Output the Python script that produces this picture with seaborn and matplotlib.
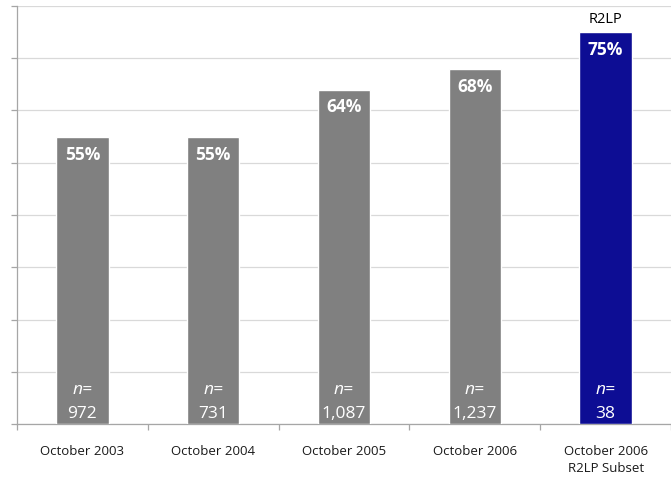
import matplotlib
matplotlib.use("Agg")
import matplotlib.pyplot as plt
import seaborn as sns
import pandas as pd
import numpy as np

categories = ["October 2003", "October 2004", "October 2005", "October 2006", "October 2006\nR2LP Subset"]
values = [55, 55, 64, 68, 75]
n_labels = ["972", "731", "1,087", "1,237", "38"]
colors = ["#808080", "#808080", "#808080", "#808080", "#0d0d94"]

sns.set_theme(style="white")
plt.rcParams['font.family'] = ['Open Sans', 'DejaVu Sans']

df = pd.DataFrame({"cat": categories, "val": values})

fig = plt.figure(figsize=(6.71, 4.78), dpi=100)
ax = fig.add_axes([17/671, 54/478, (671-17)/671, 418/478])
sns.barplot(data=df, x="cat", y="val", hue="cat", palette=colors, legend=False,
            width=0.40, saturation=1, ax=ax, zorder=3)

ax.set_ylim(0, 80)
ax.set_xlim(-0.5, 4.5 - 2/131)
ax.set_yticks(np.arange(0, 81, 10))
ax.set_yticklabels([])
ax.grid(axis="y", color="#d9d9d9", linewidth=0.9, zorder=0)
ax.set_xlabel("")
ax.set_ylabel("")

for s in ["top", "right"]:
    ax.spines[s].set_visible(False)
for s in ["left", "bottom"]:
    ax.spines[s].set_color("#a6a6a6")
    ax.spines[s].set_linewidth(0.9)

ax.tick_params(axis="y", which="major", left=True, length=4, color="#a6a6a6", width=0.9)
ax.set_xticks(range(len(categories)))
ax.set_xticklabels(categories, fontsize=9.5, color="#1a1a1a", linespacing=1.45)
ax.tick_params(axis="x", which="major", length=0, pad=15)
ax.set_xticks(np.arange(-0.5, 4.6, 1), minor=True)
ax.tick_params(axis="x", which="minor", bottom=True, length=4, color="#a6a6a6", width=0.9)

for i, (v, n) in enumerate(zip(values, n_labels)):
    ax.text(i, v - 1.7, f"{v}%", ha="center", va="top", color="white",
            fontsize=12.5, fontweight="bold", zorder=4)
    ax.text(i, 6.6, "n=", ha="center", va="center", color="white",
            fontsize=12.5, fontstyle="italic", zorder=4)
    ax.text(i, 2.0, n, ha="center", va="center", color="white",
            fontsize=12.5, zorder=4)

ax.text(4, values[4] + 0.9, "R2LP", ha="center", va="bottom", color="black", fontsize=10.5)

fig.savefig("out.png", dpi=100)
